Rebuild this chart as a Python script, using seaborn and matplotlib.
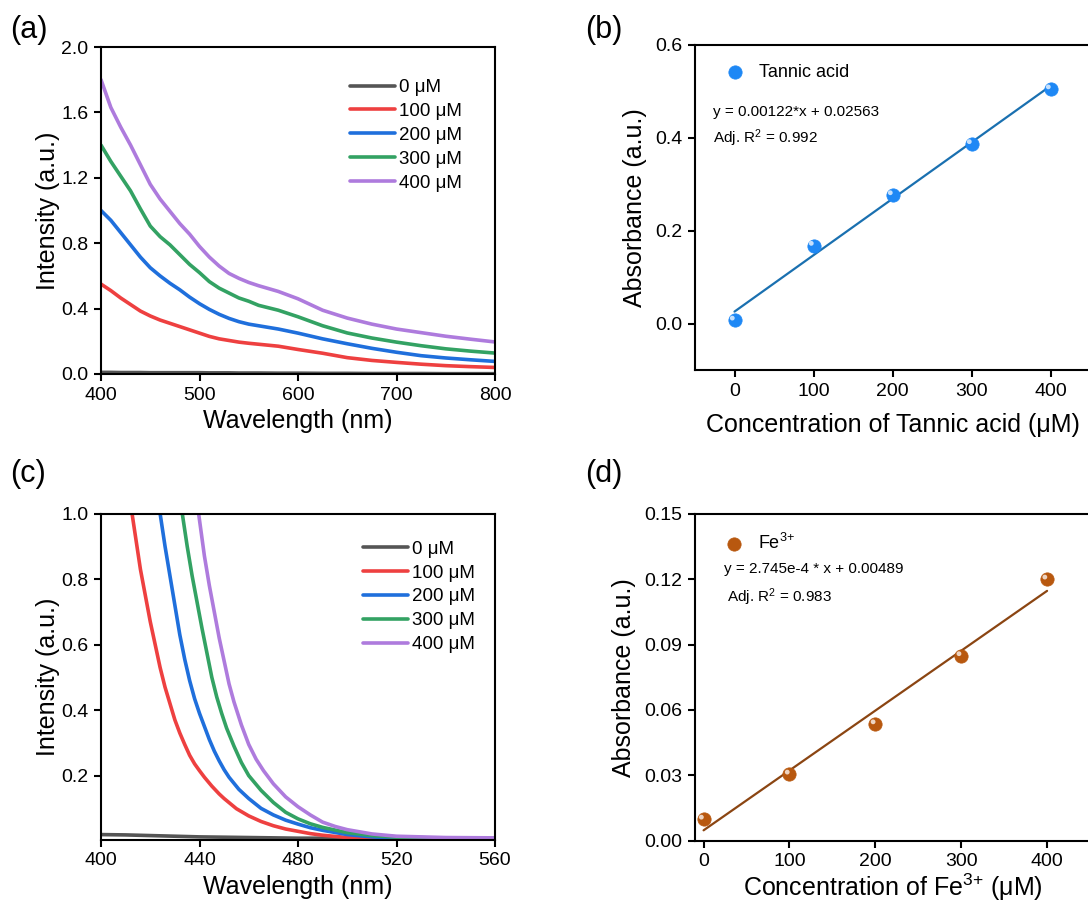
import numpy as np
import pandas as pd
import matplotlib
matplotlib.use("Agg")
import matplotlib.pyplot as plt
import matplotlib.transforms as mtransforms
import seaborn as sns

# ---------------- data ----------------
conc_labels = ["0 μM", "100 μM", "200 μM", "300 μM", "400 μM"]
line_colors = ["#555555", "#EE4040", "#1F6FDC", "#33A263", "#AE7BDD"]

# panel (a): wavelength 400-800 nm
wl_a = [400, 410, 420, 430, 440, 450, 460, 470, 480, 490, 500, 510, 520, 530,
        540, 550, 560, 580, 600, 625, 650, 675, 700, 725, 750, 775, 800]
a_0 = [0.010, 0.010, 0.009, 0.009, 0.009, 0.008, 0.008, 0.008, 0.008, 0.008, 0.008, 0.007, 0.007, 0.007,
       0.006, 0.006, 0.006, 0.005, 0.005, 0.004, 0.004, 0.003, 0.003, 0.003, 0.002, 0.002, 0.002]
a_100 = [0.55, 0.51, 0.465, 0.425, 0.385, 0.355, 0.33, 0.31, 0.29, 0.27, 0.25, 0.23, 0.215, 0.205,
         0.195, 0.188, 0.182, 0.170, 0.150, 0.127, 0.100, 0.083, 0.071, 0.060, 0.051, 0.045, 0.040]
a_200 = [1.00, 0.94, 0.865, 0.79, 0.715, 0.65, 0.60, 0.555, 0.515, 0.47, 0.43, 0.395, 0.365, 0.34,
         0.32, 0.305, 0.295, 0.275, 0.250, 0.215, 0.185, 0.157, 0.133, 0.112, 0.098, 0.087, 0.077]
a_300 = [1.40, 1.30, 1.21, 1.12, 1.01, 0.905, 0.84, 0.79, 0.73, 0.67, 0.62, 0.565, 0.525, 0.495,
         0.465, 0.445, 0.42, 0.39, 0.35, 0.295, 0.251, 0.22, 0.195, 0.173, 0.154, 0.14, 0.128]
a_400 = [1.80, 1.63, 1.51, 1.40, 1.28, 1.16, 1.07, 0.995, 0.92, 0.855, 0.78, 0.715, 0.66, 0.615,
         0.585, 0.56, 0.54, 0.505, 0.46, 0.39, 0.342, 0.305, 0.275, 0.253, 0.231, 0.213, 0.196]

# panel (c): wavelength 400-560 nm (each series read at its own wavelengths)
c0_wl = [400, 410, 420, 440, 460, 480, 500, 520, 540, 560]
c0_val = [0.020, 0.019, 0.017, 0.013, 0.011, 0.009, 0.009, 0.008, 0.008, 0.008]
c100_wl = [410, 412, 414, 416, 418, 420, 422, 424, 426, 428, 430, 432, 434, 436, 438, 440,
           442, 445, 448, 450, 455, 460, 465, 470, 475, 480, 485, 490, 500, 510, 520, 540, 560]
c100_val = [1.20, 1.03, 0.93, 0.83, 0.75, 0.67, 0.60, 0.53, 0.47, 0.42, 0.37, 0.33, 0.295, 0.262,
            0.236, 0.215, 0.195, 0.168, 0.144, 0.130, 0.099, 0.077, 0.060, 0.047, 0.037, 0.030,
            0.023, 0.018, 0.011, 0.008, 0.006, 0.005, 0.005]
c200_wl = [422, 424, 426, 428, 430, 432, 434, 436, 438, 440, 442, 444, 446, 448, 450, 452, 456,
           460, 465, 470, 475, 480, 485, 490, 500, 510, 520, 540, 560]
c200_val = [1.12, 1.00, 0.90, 0.81, 0.72, 0.63, 0.555, 0.49, 0.435, 0.39, 0.35, 0.31, 0.275,
            0.245, 0.218, 0.195, 0.158, 0.13, 0.10, 0.08, 0.064, 0.052, 0.041, 0.033, 0.020,
            0.013, 0.009, 0.007, 0.007]
c300_wl = [431, 433, 435, 437, 439, 441, 443, 445, 447, 449, 451, 454, 457, 460, 465, 470, 475,
           480, 485, 490, 500, 510, 520, 540, 560]
c300_val = [1.12, 1.00, 0.90, 0.81, 0.73, 0.65, 0.575, 0.50, 0.44, 0.39, 0.345, 0.29, 0.24, 0.20,
            0.155, 0.118, 0.088, 0.068, 0.053, 0.042, 0.026, 0.017, 0.012, 0.009, 0.008]
c400_wl = [437, 440, 442, 444, 446, 448, 450, 452, 454, 457, 460, 463, 466, 470, 475, 480, 485,
           490, 495, 500, 510, 520, 540, 560]
c400_val = [1.15, 0.98, 0.87, 0.78, 0.70, 0.62, 0.55, 0.48, 0.425, 0.355, 0.295, 0.25, 0.215,
            0.175, 0.135, 0.105, 0.08, 0.058, 0.045, 0.035, 0.022, 0.015, 0.011, 0.010]

# panel (b): tannic acid calibration
ta_conc = [0, 100, 200, 300, 400]
ta_abs = [0.007, 0.168, 0.277, 0.387, 0.505]
ta_eq = "y = 0.00122*x + 0.02563"
ta_r2 = "Adj. R$^{2}$ = 0.992"

# panel (d): Fe3+ calibration
fe_conc = [0, 100, 200, 300, 400]
fe_abs = [0.0097, 0.0304, 0.0535, 0.0848, 0.1200]
fe_eq = "y = 2.745e-4 * x + 0.00489"
fe_r2 = "Adj. R$^{2}$ = 0.983"

# ---------------- style ----------------
sns.set_style("ticks")
plt.rcParams["font.family"] = ["Liberation Sans", "DejaVu Sans"]
plt.rcParams["mathtext.fontset"] = "custom"
plt.rcParams["mathtext.rm"] = "Liberation Sans"
plt.rcParams["mathtext.it"] = "Liberation Sans"
plt.rcParams["mathtext.bf"] = "Liberation Sans:bold"
plt.rcParams["axes.linewidth"] = 1.5
plt.rcParams["xtick.major.width"] = 1.5
plt.rcParams["ytick.major.width"] = 1.5
plt.rcParams["xtick.major.size"] = 5
plt.rcParams["ytick.major.size"] = 5
plt.rcParams["xtick.labelsize"] = 14
plt.rcParams["ytick.labelsize"] = 14
plt.rcParams["axes.labelsize"] = 18
plt.rcParams["xtick.color"] = "black"
plt.rcParams["ytick.color"] = "black"
plt.rcParams["axes.edgecolor"] = "black"
plt.rcParams["text.color"] = "black"
plt.rcParams["axes.labelcolor"] = "black"
plt.rcParams["legend.labelcolor"] = "black"

W, H = 1088, 908
fig = plt.figure(figsize=(W / 100, H / 100), dpi=100)


def ax_px(left, right, top, bottom):
    return fig.add_axes([left / W, (H - bottom) / H, (right - left) / W, (bottom - top) / H])


ax_a = ax_px(101, 495, 47, 374)
ax_b = ax_px(695, 1090, 45, 370)
ax_c = ax_px(101, 495, 513.5, 839.5)
ax_d = ax_px(695, 1090, 514, 840.5)

for ax in (ax_a, ax_b, ax_c, ax_d):
    for s in ax.spines.values():
        s.set_visible(True)
        s.set_linewidth(1.5)
        s.set_color("black")
    ax.tick_params(direction="out", top=False, right=False, pad=4)

palette = dict(zip(conc_labels, line_colors))
leg_kw = dict(frameon=False, loc="upper left", fontsize=13.5, handlelength=2.4,
              handletextpad=0.2, labelspacing=0.36, borderpad=0, borderaxespad=0)

# ---------- panel a ----------
df_a = pd.concat([
    pd.DataFrame({"Wavelength": wl_a, "Intensity": v, "Sample": lab})
    for v, lab in zip([a_0, a_100, a_200, a_300, a_400], conc_labels)
])
sns.lineplot(data=df_a, x="Wavelength", y="Intensity", hue="Sample", palette=palette,
             hue_order=conc_labels, estimator=None, errorbar=None, linewidth=2.6,
             ax=ax_a, legend=True)
ax_a.set_xlim(400, 800)
ax_a.set_ylim(0, 2.0)
ax_a.set_xticks([400, 500, 600, 700, 800])
ax_a.set_yticks([0.0, 0.4, 0.8, 1.2, 1.6, 2.0])
ax_a.set_yticklabels([f"{v:.1f}" for v in [0.0, 0.4, 0.8, 1.2, 1.6, 2.0]])
ax_a.set_xlabel("Wavelength (nm)")
ax_a.set_ylabel("Intensity (a.u.)", labelpad=1)
ax_a.legend(bbox_to_anchor=(0.632, 0.902), **leg_kw)

# ---------- panel c ----------
df_c = pd.concat([
    pd.DataFrame({"Wavelength": w, "Intensity": v, "Sample": lab})
    for w, v, lab in zip([c0_wl, c100_wl, c200_wl, c300_wl, c400_wl],
                         [c0_val, c100_val, c200_val, c300_val, c400_val], conc_labels)
])
sns.lineplot(data=df_c, x="Wavelength", y="Intensity", hue="Sample", palette=palette,
             hue_order=conc_labels, estimator=None, errorbar=None, linewidth=2.6,
             ax=ax_c, legend=True)
ax_c.set_xlim(400, 560)
ax_c.set_ylim(0.005, 1.0)
ax_c.set_xticks([400, 440, 480, 520, 560])
ax_c.set_yticks([0.2, 0.4, 0.6, 0.8, 1.0])
ax_c.set_yticklabels([f"{v:.1f}" for v in [0.2, 0.4, 0.6, 0.8, 1.0]])
ax_c.set_xlabel("Wavelength (nm)")
ax_c.set_ylabel("Intensity (a.u.)", labelpad=1)
ax_c.legend(bbox_to_anchor=(0.665, 0.917), **leg_kw)


# ---------- calibration panels ----------
def calib(ax, x, y, mcolor, lcolor, label, eq, r2, eq_xy, r2_xy, leg_anchor):
    sns.regplot(x=np.array(x, float), y=np.array(y, float), ax=ax, scatter=False, ci=None,
                truncate=True, line_kws=dict(color=lcolor, linewidth=1.6))
    sns.scatterplot(x=x, y=y, ax=ax, color=mcolor, s=92, edgecolor=mcolor, linewidth=0.5,
                    label=label, zorder=3)
    # glossy highlight of the spherical markers
    off = mtransforms.offset_copy(ax.transData, fig=fig, x=-1.6, y=1.6, units="points")
    ax.scatter(x, y, s=12, color="white", alpha=0.75, edgecolor="none", transform=off, zorder=4)
    ax.text(eq_xy[0], eq_xy[1], eq, transform=ax.transAxes, fontsize=11, va="center", ha="left")
    ax.text(r2_xy[0], r2_xy[1], r2, transform=ax.transAxes, fontsize=11, va="center", ha="left")
    ax.legend(frameon=False, loc="upper left", bbox_to_anchor=leg_anchor, fontsize=13,
              handlelength=2.0, handletextpad=0.35, borderpad=0, borderaxespad=0)


calib(ax_b, ta_conc, ta_abs, "#1E88F5", "#1A70B0", "Tannic acid", ta_eq, ta_r2,
      (0.045, 0.795), (0.045, 0.712), (0.055, 0.943))
ax_b.set_xlim(-50, 450)
ax_b.set_ylim(-0.1, 0.6)
ax_b.set_xticks([0, 100, 200, 300, 400])
ax_b.set_yticks([0.0, 0.2, 0.4, 0.6])
ax_b.set_yticklabels([f"{v:.1f}" for v in [0.0, 0.2, 0.4, 0.6]])
ax_b.set_xlabel("Concentration of Tannic acid (μM)", labelpad=10)
ax_b.set_ylabel("Absorbance (a.u.)", labelpad=6)

calib(ax_d, fe_conc, fe_abs, "#B8580F", "#8B4512", "Fe$^{3{+}}$", fe_eq, fe_r2,
      (0.073, 0.833), (0.08, 0.745), (0.053, 0.943))
ax_d.set_xlim(-10, 450)
ax_d.set_ylim(0, 0.15)
ax_d.set_xticks([0, 100, 200, 300, 400])
ax_d.set_yticks([0.00, 0.03, 0.06, 0.09, 0.12, 0.15])
ax_d.set_yticklabels([f"{v:.2f}" for v in [0.00, 0.03, 0.06, 0.09, 0.12, 0.15]])
ax_d.set_xlabel("Concentration of Fe$^{3{+}}$ (μM)", labelpad=1)
ax_d.set_ylabel("Absorbance (a.u.)", labelpad=6)

# panel letters
for txt, x, y in [("(a)", 10, 30), ("(b)", 585, 30), ("(c)", 10, 474), ("(d)", 585, 474)]:
    fig.text(x / W, 1 - y / H, txt, fontsize=22, ha="left", va="center")

fig.savefig("out.png", dpi=100)
